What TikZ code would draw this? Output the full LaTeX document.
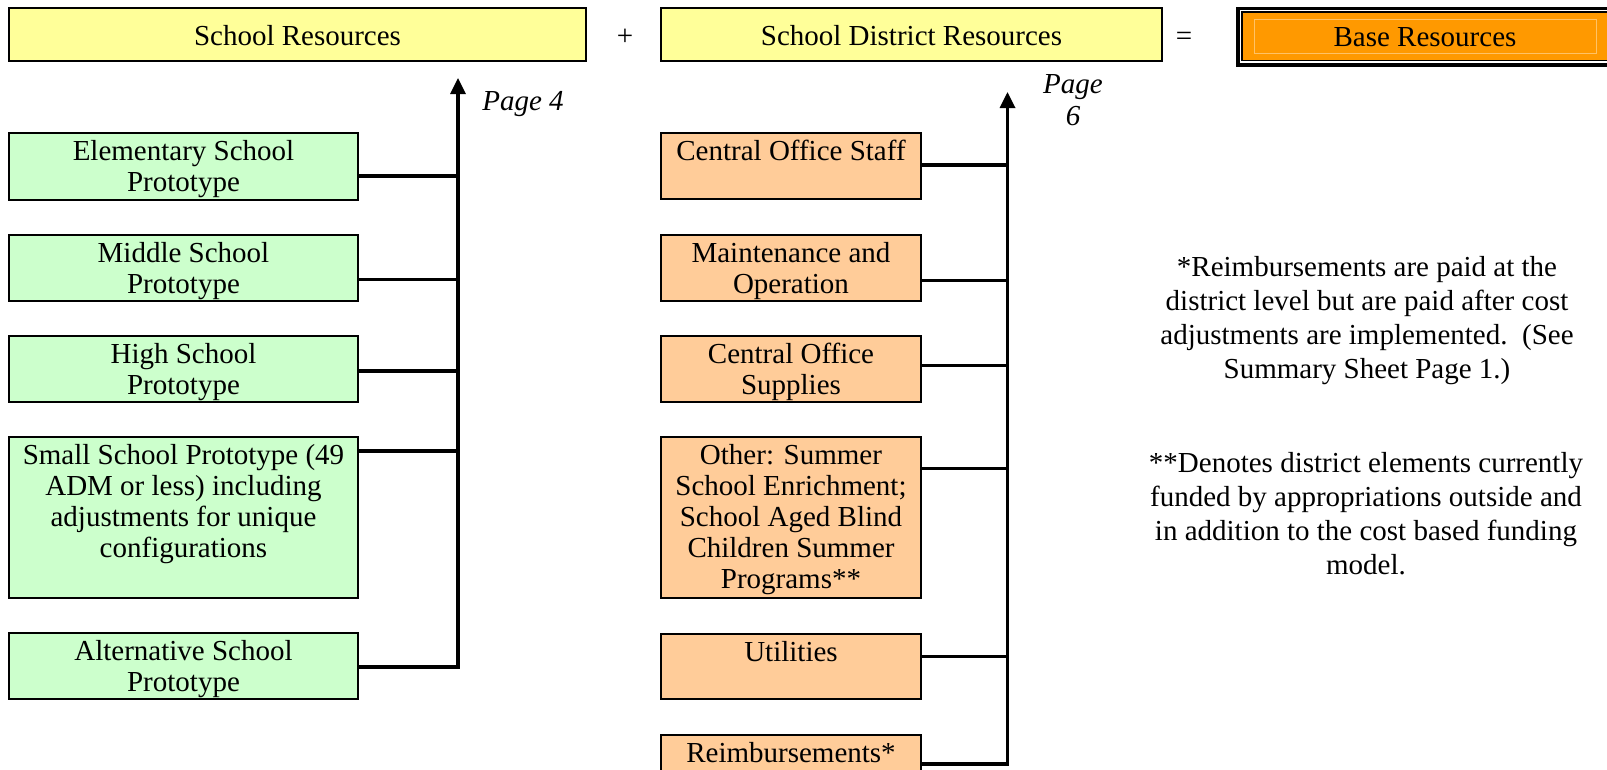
\documentclass[tikz,border=0pt]{standalone}
\usepackage{fontspec}
\setmainfont{Liberation Serif}
\usetikzlibrary{arrows.meta}
\definecolor{resyellow}{HTML}{FFFF99}
\definecolor{resgreen}{HTML}{CCFFCC}
\definecolor{respeach}{HTML}{FFCC99}
\definecolor{resorange}{HTML}{FF9900}
\definecolor{resframe}{HTML}{FFC266}
% fixes the height of the first line so its baseline sits 21pt below the node top
\newcommand{\firststrut}{\rule{0pt}{21pt}}
\begin{document}
\begin{tikzpicture}[x=1pt,y=-1pt,
  box/.style={draw=black,line width=2pt,rectangle,anchor=north west,inner sep=0pt,outer sep=0pt},
  schoolbox/.style={box,fill=resgreen,minimum width=349pt},
  districtbox/.style={box,fill=respeach,minimum width=260pt},
  headbox/.style={box,fill=resyellow,minimum height=53pt},
  txt/.style={font=\fontsize{29}{31}\selectfont,align=center,inner sep=0pt,outer sep=0pt},
  boxtext/.style={txt,anchor=north,yshift=-6pt},
  headtext/.style={txt,anchor=base},
  note/.style={font=\fontsize{29}{34}\selectfont,align=center,inner sep=0pt,anchor=north},
  pagetext/.style={font=\fontsize{29}{32}\selectfont\itshape,align=center,inner sep=0pt},
  conn/.style={line width=3.3pt},
  spine/.style={line width=3.3pt,-{Triangle[length=16pt,width=15pt]}}
]
\useasboundingbox (0,0) rectangle (1607,769);
\clip (0,0) rectangle (1607,769);

% ---- header row ----
\node[headbox,minimum width=577pt] (sr) at (9,8) {};
\node[headtext] (srt) at (sr.center |- 0,45) {School Resources};
\node[headtext] (plus) at (625,45) {+};
\node[headbox,minimum width=501pt] (sdr) at (661,8) {};
\node[headtext] (sdrt) at (sdr.center |- 0,45) {School District Resources};
\node[headtext] (eq) at (1184,45) {=};

% framed total box, open to the right
\fill[black] (1236,7) rectangle (1630,67);
\fill[white] (1239.5,10) rectangle (1630,63.3);
\fill[black] (1241,11) rectangle (1630,61.3);
\node[rectangle,fill=resorange,inner sep=0pt,outer sep=0pt,anchor=north west,
      minimum width=387pt,minimum height=47pt] (base) at (1243,12.5) {};
\draw[resframe,line width=0.8pt] (1254,19) rectangle (1596,53);
\node[headtext] (baset) at (1425,46.5) {Base Resources};

% ---- school prototypes ----
\node[schoolbox,minimum height=66.5pt] (e1) at (9,133) {};
\node[schoolbox,minimum height=66pt] (e2) at (9,235) {};
\node[schoolbox,minimum height=66pt] (e3) at (9,336) {};
\node[schoolbox,minimum height=161pt] (e4) at (9,437) {};
\node[schoolbox,minimum height=66pt] (e5) at (9,633) {};
\node[boxtext] (e1t) at (e1.north) {\firststrut Elementary School\\Prototype};
\node[boxtext] (e2t) at (e2.north) {\firststrut Middle School\\Prototype};
\node[boxtext] (e3t) at (e3.north) {\firststrut High School\\Prototype};
\node[boxtext] (e4t) at (e4.north) {\firststrut Small School Prototype (49\\ADM or less) including\\adjustments for unique\\configurations};
\node[boxtext] (e5t) at (e5.north) {\firststrut Alternative School\\Prototype};

% ---- district elements ----
\node[districtbox,minimum height=66pt] (d1) at (661,133) {};
\node[districtbox,minimum height=66pt] (d2) at (661,235) {};
\node[districtbox,minimum height=66pt] (d3) at (661,336) {};
\node[districtbox,minimum height=161pt] (d4) at (661,437) {};
\node[districtbox,minimum height=65pt] (d5) at (661,634) {};
\node[districtbox,minimum height=66pt] (d6) at (661,735) {};
\node[boxtext] (d1t) at (d1.north) {\firststrut Central Office Staff};
\node[boxtext] (d2t) at (d2.north) {\firststrut Maintenance and\\Operation};
\node[boxtext] (d3t) at (d3.north) {\firststrut Central Office\\Supplies};
\node[boxtext] (d4t) at (d4.north) {\firststrut Other: Summer\\School Enrichment;\\School Aged Blind\\Children Summer\\Programs**};
\node[boxtext] (d5t) at (d5.north) {\firststrut Utilities};
\node[boxtext] (d6t) at (d6.north) {\firststrut Reimbursements*};

% ---- spines and branch points ----
\coordinate (sLtop) at (458,78);
\coordinate (sL1) at (458,176);
\coordinate (sL2) at (458,279.3);
\coordinate (sL3) at (458,371);
\coordinate (sL4) at (458,451);
\coordinate (sL5) at (458,667);

\coordinate (sRtop) at (1007.5,92);
\coordinate (sR1) at (1007.5,165);
\coordinate (sR2) at (1007.5,280.7);
\coordinate (sR3) at (1007.5,365.7);
\coordinate (sR4) at (1007.5,468.3);
\coordinate (sR5) at (1007.5,656.7);
\coordinate (sR6) at (1007.5,764);

\draw[conn] (e1.east |- sL1) -- (sL1);
\draw[conn] (e2.east |- sL2) -- (sL2);
\draw[conn] (e3.east |- sL3) -- (sL3);
\draw[conn] (e4.east |- sL4) -- (sL4);
\draw[spine] (e5.east |- sL5) -- (sL5) -- (sLtop);

\draw[conn] (d1.east |- sR1) -- (sR1);
\draw[conn] (d2.east |- sR2) -- (sR2);
\draw[conn] (d3.east |- sR3) -- (sR3);
\draw[conn] (d4.east |- sR4) -- (sR4);
\draw[conn] (d5.east |- sR5) -- (sR5);
\draw[spine] (d6.east |- sR6) -- (sR6) -- (sRtop);

% ---- page references ----
\node[pagetext,anchor=base] (p4) at (523,110) {Page 4};
\node[pagetext,anchor=north] (p6) at (1073,72) {\firststrut Page\\6};

% ---- notes ----
\node[note] (n1) at (1367,255) {\firststrut *Reimbursements are paid at the\\district level but are paid after cost\\adjustments are implemented.\ \ (See\\Summary Sheet Page 1.)};
\node[note] (n2) at (1366,451) {\firststrut **Denotes district elements currently\\funded by appropriations outside and\\in addition to the cost based funding\\model.};
\end{tikzpicture}
\end{document}
